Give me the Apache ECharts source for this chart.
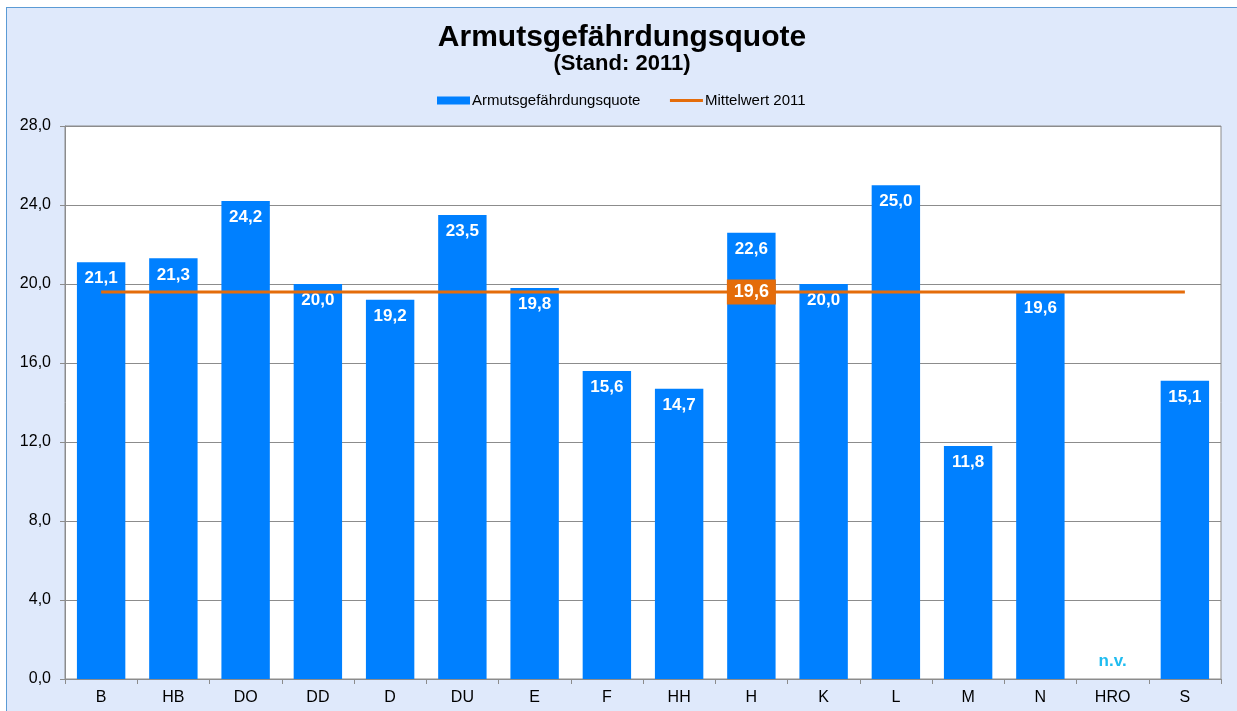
<!DOCTYPE html>
<html>
<head>
<meta charset="utf-8">
<script src="https://cdn.jsdelivr.net/npm/echarts@6/dist/echarts.min.js"></script>
<style>
  html, body { margin: 0; padding: 0; background: #fff; }
  #chart {
    position: absolute;
    left: 6px; top: 7px;
    width: 1231px; height: 704px;
    border-left: 1px solid #5b9bd5;
    border-top: 1px solid #5b9bd5;
    box-sizing: border-box;
  }
</style>
</head>
<body>
<div id="chart"></div>
<script>
const categories = ['B', 'HB', 'DO', 'DD', 'D', 'DU', 'E', 'F', 'HH', 'H', 'K', 'L', 'M', 'N', 'HRO', 'S']
const quote = [21.1, 21.3, 24.2, 20.0, 19.2, 23.5, 19.8, 15.6, 14.7, 22.6, 20.0, 25.0, 11.8, 19.6, null, 15.1]
const mittelwert = 19.6
const missingLabel = 'n.v.'
const meanLabelAt = 'H'

const fmt = v => v.toFixed(1).replace('.', ',')

const chart = echarts.init(document.getElementById('chart'))

const barData = quote.map(v => {
  if (v === null) {
    return {
      value: 0,
      label: {
        show: true,
        position: 'top',
        distance: 9,
        formatter: missingLabel,
        color: '#1fbcf0',
        fontSize: 17,
      },
    }
  }
  return v
})

const lineData = categories.map(() => mittelwert)

chart.setOption({
  backgroundColor: '#dfe9fb',
  textStyle: { fontFamily: 'Liberation Sans, Arial, sans-serif' },
  title: {
    text: 'Armutsgefährdungsquote',
    subtext: '(Stand: 2011)',
    left: 'center',
    top: 10,
    itemGap: 0,
    textStyle: { fontSize: 30, fontWeight: 'bold', color: '#000' },
    subtextStyle: { fontSize: 22, fontWeight: 'bold', color: '#000' },
  },
  legend: {
    top: 80,
    left: 425,
    itemGap: 28,
    itemWidth: 33,
    itemHeight: 8,
    textStyle: { fontSize: 15, color: '#000', padding: [0, 0, 0, -3] },
    data: [
      { name: 'Armutsgefährdungsquote', icon: 'rect' },
      { name: 'Mittelwert 2011', itemStyle: { opacity: 0 }, lineStyle: { width: 3 } },
    ],
  },
  grid: {
    left: 58,
    right: 16,
    top: 118,
    bottom: 32,
    show: true,
    backgroundColor: '#fff',
    borderColor: '#8c8c8c',
    borderWidth: 1,
  },
  xAxis: {
    type: 'category',
    data: categories,
    axisLine: { lineStyle: { color: '#8c8c8c' } },
    axisTick: { show: true, length: 5, lineStyle: { color: '#8c8c8c' } },
    axisLabel: { fontSize: 16, color: '#000', margin: 11 },
  },
  yAxis: {
    type: 'value',
    min: 0,
    max: 28,
    interval: 4,
    axisLine: { show: true, lineStyle: { color: '#8c8c8c' } },
    axisTick: { show: true, length: 5, lineStyle: { color: '#8c8c8c' } },
    axisLabel: { fontSize: 16, color: '#000', margin: 14, formatter: v => fmt(v) },
    splitLine: { lineStyle: { color: '#8c8c8c' } },
  },
  series: [
    {
      name: 'Armutsgefährdungsquote',
      type: 'bar',
      data: barData,
      barCategoryGap: '33%',
      itemStyle: { color: '#0080ff' },
      label: {
        show: true,
        position: 'insideTop',
        distance: 8,
        color: '#fff',
        fontWeight: 'bold',
        fontSize: 17,
        formatter: p => fmt(p.value),
      },
      z: 2,
    },
    {
      name: 'Mittelwert 2011',
      type: 'line',
      data: lineData,
      symbol: 'none',
      lineStyle: { color: '#e46c0a', width: 3 },
      itemStyle: { color: '#e46c0a' },
      markPoint: {
        symbol: 'rect',
        symbolSize: [49, 25],
        itemStyle: { color: '#e46c0a' },
        label: {
          show: true,
          position: 'inside',
          color: '#fff',
          fontWeight: 'bold',
          fontSize: 18,
          formatter: p => fmt(p.value),
        },
        data: [{ coord: [meanLabelAt, mittelwert], value: mittelwert }],
      },
      z: 3,
    },
  ],
})
</script>
</body>
</html>
